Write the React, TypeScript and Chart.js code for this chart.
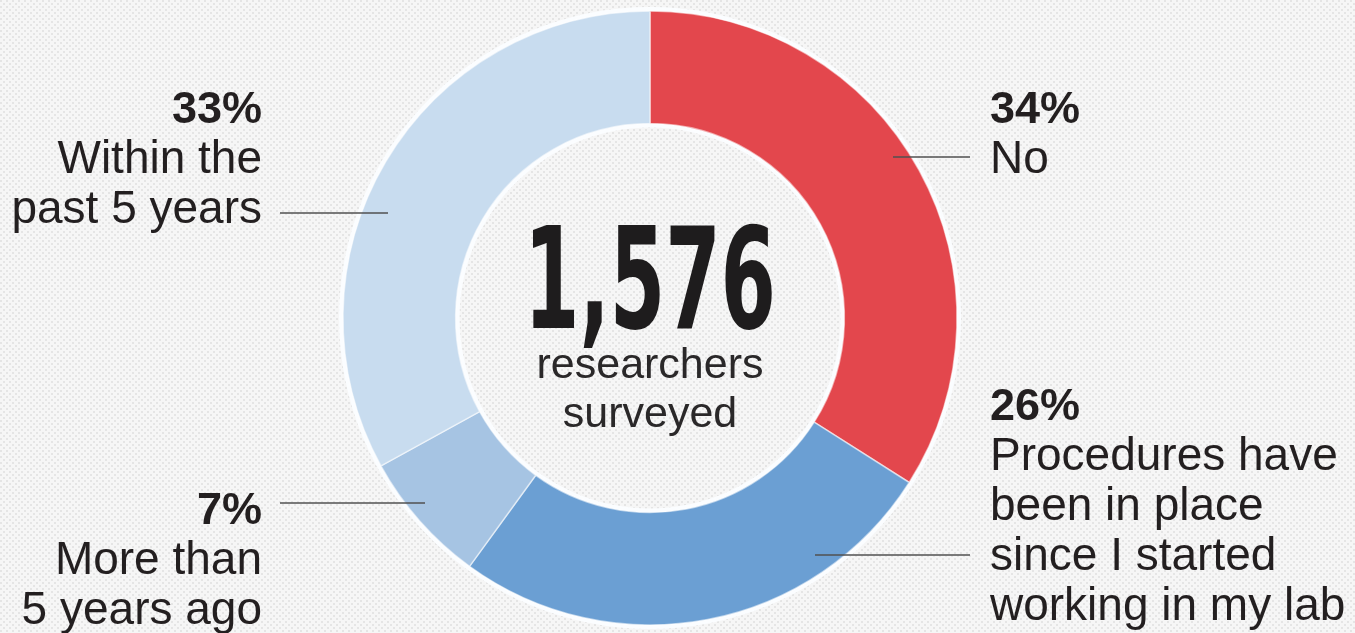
import React, { useEffect, useRef } from "react";
import { Chart, registerables } from "chart.js";

Chart.register(...registerables);

// ---- data ----
const categories = [
  "No",
  "Procedures have been in place since I started working in my lab",
  "More than 5 years ago",
  "Within the past 5 years",
];
const values = [34, 26, 7, 33];
const percentLabels = ["34%", "26%", "7%", "33%"];
const labelLines = [
  ["No"],
  ["Procedures have", "been in place", "since I started", "working in my lab"],
  ["More than", "5 years ago"],
  ["Within the", "past 5 years"],
];
const sliceColors = ["#e3474d", "#6b9fd3", "#a6c4e3", "#c8dcef"];
const totalSurveyed = "1,576";
const centerCaption = ["researchers", "surveyed"];

// ---- annotation layout (positions only) ----
const annotLayout = [
  { x: 990, y: 123, align: "left", lx1: 893, lx2: 970, ly: 157 },
  { x: 990, y: 420, align: "left", lx1: 815, lx2: 970, ly: 555 },
  { x: 262, y: 524, align: "right", lx1: 280, lx2: 425, ly: 503 },
  { x: 262, y: 123, align: "right", lx1: 280, lx2: 388, ly: 213 },
];
const LINE_H = 50;
const TEXT = "#231f20";

function makePattern(ctx: CanvasRenderingContext2D) {
  const c = document.createElement("canvas");
  c.width = 6;
  c.height = 6;
  const p = c.getContext("2d")!;
  p.fillStyle = "#f6f6f6";
  p.fillRect(0, 0, 6, 6);
  p.fillStyle = "#e5e5e5";
  p.fillRect(0, 0, 2, 2);
  p.fillRect(3, 3, 2, 2);
  return ctx.createPattern(c, "repeat");
}

const decorPlugin = {
  id: "decor",
  beforeDraw(chart: any) {
    const ctx: CanvasRenderingContext2D = chart.ctx;
    const { width, height } = chart;
    ctx.save();
    const pat = makePattern(ctx);
    ctx.fillStyle = pat || "#eeeeee";
    ctx.fillRect(0, 0, width, height);
    const arc = chart.getDatasetMeta(0).data[0];
    if (arc) {
      const { x, y, outerRadius, innerRadius } = arc as any;
      ctx.beginPath();
      ctx.arc(x, y, outerRadius + 4, 0, Math.PI * 2);
      ctx.arc(x, y, Math.max(innerRadius - 4, 0), 0, Math.PI * 2, true);
      ctx.fillStyle = "#fbfdff";
      ctx.fill("evenodd");
    }
    ctx.restore();
  },
  afterDraw(chart: any) {
    const ctx: CanvasRenderingContext2D = chart.ctx;
    const arc = chart.getDatasetMeta(0).data[0] as any;
    const cx = arc ? arc.x : 650;
    ctx.save();
    // center number
    ctx.fillStyle = "#1e1c1d";
    ctx.textBaseline = "alphabetic";
    ctx.textAlign = "center";
    ctx.font = "bold 140px 'Liberation Sans Narrow', 'DejaVu Sans Condensed', 'Liberation Sans', sans-serif";
    const w = ctx.measureText(totalSurveyed).width;
    const sx = 252 / w;
    ctx.save();
    ctx.translate(cx, 328);
    ctx.scale(sx, 1);
    ctx.fillText(totalSurveyed, 0, 0);
    ctx.restore();
    // caption
    ctx.fillStyle = "#2a2829";
    ctx.font = "43px 'Liberation Sans', Arial, sans-serif";
    ctx.fillText(centerCaption[0], cx, 378);
    ctx.fillText(centerCaption[1], cx, 427);

    // leader lines
    ctx.strokeStyle = "#505050";
    ctx.lineWidth = 1.5;
    annotLayout.forEach((a) => {
      ctx.beginPath();
      ctx.moveTo(a.lx1, a.ly);
      ctx.lineTo(a.lx2, a.ly);
      ctx.stroke();
    });

    // labels
    annotLayout.forEach((a, i) => {
      ctx.textAlign = a.align as CanvasTextAlign;
      ctx.fillStyle = TEXT;
      ctx.font = "bold 45px 'Liberation Sans', Arial, sans-serif";
      ctx.fillText(percentLabels[i], a.x, a.y);
      ctx.font = "46px 'Liberation Sans', Arial, sans-serif";
      labelLines[i].forEach((ln, j) => {
        ctx.fillText(ln, a.x, a.y + LINE_H * (j + 1));
      });
    });
    ctx.restore();
  },
};

export default function App() {
  const ref = useRef<HTMLCanvasElement>(null);
  useEffect(() => {
    if (!ref.current) return;
    const chart = new Chart(ref.current, {
      type: "doughnut",
      data: {
        labels: categories,
        datasets: [
          {
            data: values,
            backgroundColor: sliceColors,
            borderColor: "rgba(255,255,255,0.55)",
            borderWidth: 1.5,
            hoverOffset: 0,
            radius: 307,
            cutout: 199,
          } as any,
        ],
      },
      options: {
        animation: false,
        responsive: false,
        events: [],
        layout: { padding: { left: 0, right: 55, top: 3, bottom: 0 } },
        plugins: {
          legend: { display: false },
          tooltip: { enabled: false },
        },
      } as any,
      plugins: [decorPlugin],
    });
    return () => chart.destroy();
  }, []);
  return (
    <div style={{ position: "absolute", left: 0, top: 0, width: 1355, height: 633 }}>
      <canvas ref={ref} width={1355} height={633} style={{ display: "block" }} />
    </div>
  );
}
